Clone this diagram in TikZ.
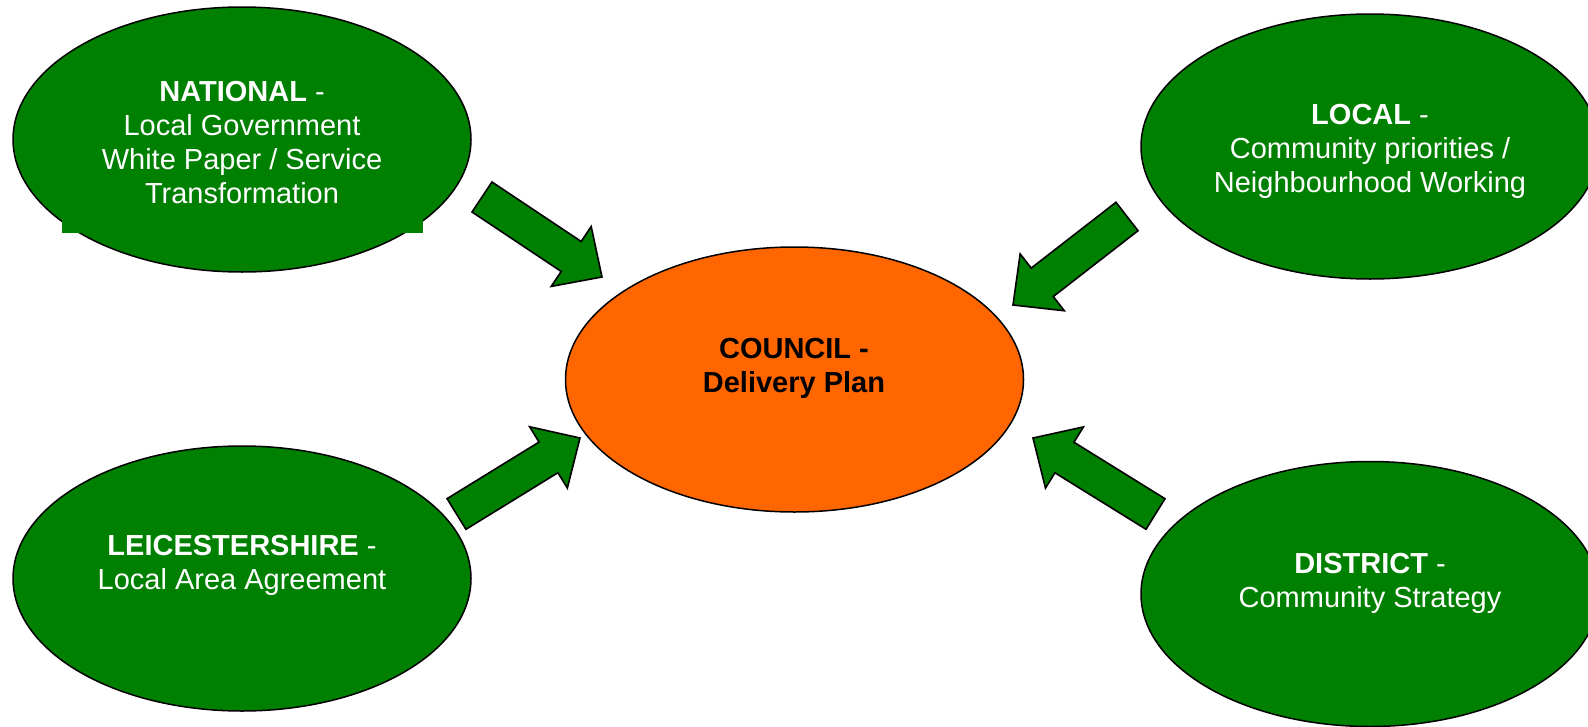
\documentclass[tikz,border=0pt]{standalone}
\usepackage{fontspec}
\setmainfont{Liberation Sans}
\usetikzlibrary{calc,shapes.geometric}
\definecolor{leafgreen}{RGB}{0,128,0}
\definecolor{councilorange}{RGB}{255,102,0}

% Block arrow from a tail point to a tip point
\newcommand\greenarrow[2]{%
  \coordinate (neck) at ($(#2)!37pt!(#1)$);
  \draw[arrowshape]
    ($(#1)!18pt!90:(#2)$) -- ($(neck)!18pt!90:(#2)$) --
    ($(neck)!36pt!90:(#2)$) -- (#2) --
    ($(neck)!36pt!-90:(#2)$) -- ($(neck)!18pt!-90:(#2)$) --
    ($(#1)!18pt!-90:(#2)$) -- cycle;}

\begin{document}
\begin{tikzpicture}[x=1pt,y=-1pt,
  bubble/.style={ellipse, draw=black, line width=1.5pt, inner sep=0pt,
    minimum width=458pt, minimum height=265pt},
  % captions are placed by the baseline of their last line
  caption/.style={font=\fontsize{29}{34}\selectfont, align=center,
    anchor=base, inner sep=0pt},
  arrowshape/.style={draw=black, line width=1.6pt, fill=leafgreen,
    line join=miter}]
\useasboundingbox (0,0) rectangle (1588,726);
\clip (0,0) rectangle (1588,726);

% outer bubbles
\node[bubble, fill=leafgreen] (national) at (242,139.5) {};
\fill[leafgreen] (62,210) rectangle (423,233);
\node[bubble, fill=leafgreen] (local) at (1370,146.5) {};
\node[bubble, fill=leafgreen] (leics) at (242,578.5) {};
\node[bubble, fill=leafgreen] (district) at (1370,594) {};

% central bubble
\node[bubble, fill=councilorange] (council) at (794.5,379.5) {};

% captions
\node[caption, text=white] (nationalText) at (242,203)
  {\textbf{NATIONAL} -\\Local Government\\White Paper / Service\\Transformation};
\node[caption, text=white] (localText) at (1370,192)
  {\textbf{LOCAL} -\\Community priorities /\\Neighbourhood Working};
\node[caption, text=white] (leicsText) at (242,589)
  {\textbf{LEICESTERSHIRE} -\\Local Area Agreement};
\node[caption, text=white] (districtText) at (1370,607)
  {\textbf{DISTRICT} -\\Community Strategy};
\node[caption, text=black, font=\fontsize{29}{34}\selectfont\bfseries] (councilText) at (794,392)
  {COUNCIL -\\Delivery Plan};

% arrows pointing at the council
\coordinate (nwTail) at (482,197);    \coordinate (nwTip) at (602,277);
\coordinate (neTail) at (1127,216.5); \coordinate (neTip) at (1013,305);
\coordinate (swTail) at (456.5,514);  \coordinate (swTip) at (580,438);
\coordinate (seTail) at (1155.5,514); \coordinate (seTip) at (1033,438);
\greenarrow{nwTail}{nwTip}
\greenarrow{neTail}{neTip}
\greenarrow{swTail}{swTip}
\greenarrow{seTail}{seTip}
\end{tikzpicture}
\end{document}
